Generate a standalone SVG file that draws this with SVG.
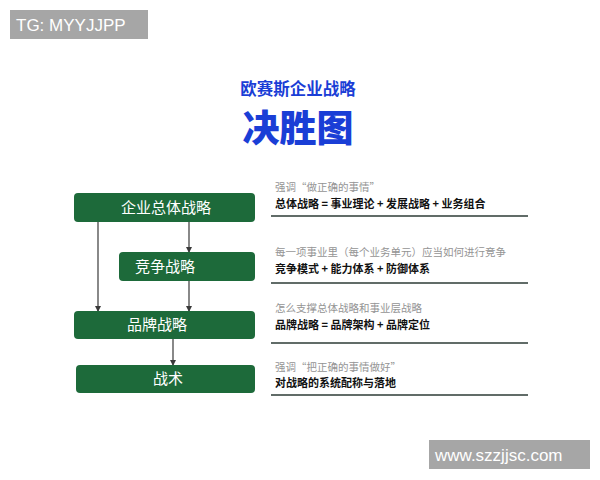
<svg xmlns="http://www.w3.org/2000/svg" width="600" height="480" viewBox="0 0 600 480">
<defs>
<style>
.box{fill:#1d6a3a;}
.bt{font-family:"Noto Sans CJK SC","Noto Sans",sans-serif;font-size:15px;fill:#ffffff;text-anchor:middle;}
.g{font-family:"Noto Sans CJK SC",sans-serif;font-size:10.5px;fill:#949494;}
.b{font-family:"Noto Sans CJK SC",sans-serif;font-size:11px;font-weight:bold;fill:#111111;}
.rule{stroke:#2c3b36;stroke-width:1.6;}
.wm{fill:#a6a6a6;}
.wt{font-family:"Liberation Sans",Arial,sans-serif;font-size:17px;fill:#ffffff;}
.conn line{stroke:#3a3a3a;stroke-width:1.2;marker-end:url(#ah);}
</style>
<marker id="ah" viewBox="0 0 6 6" refX="5" refY="3" markerWidth="6" markerHeight="6" markerUnits="userSpaceOnUse" orient="auto">
<path d="M0,0 L6,3 L0,6 z" fill="#3a3a3a"/>
</marker>
</defs>
<rect width="600" height="480" fill="#ffffff"/>
<g id="wm1"><rect class="wm" x="10" y="10" width="138" height="29"/><text class="wt" x="16" y="31">TG: MYYJJPP</text></g>
<g id="wm2"><rect class="wm" x="429" y="440" width="161" height="29"/><text class="wt" x="435" y="461">www.szzjjsc.com</text></g>
<g id="title">
<text x="298" y="95" text-anchor="middle" font-family="Noto Sans CJK SC,sans-serif" font-size="16.5" font-weight="bold" fill="#1a3ed6">欧赛斯企业战略</text>
<text x="298" y="142" text-anchor="middle" font-family="Noto Sans CJK SC,sans-serif" font-size="37" font-weight="900" fill="#1a3ed6">决胜图</text>
</g>
<g class="conn">
<line x1="98" y1="222" x2="98" y2="311"/>
<line x1="189" y1="222" x2="189" y2="252"/>
<line x1="189" y1="281" x2="189" y2="311"/>
<line x1="173" y1="339" x2="173" y2="365"/>
</g>
<g id="n1"><rect class="box" x="74" y="193" width="181" height="29" rx="4"/><text class="bt" x="166" y="213">企业总体战略</text></g>
<g id="n2"><rect class="box" x="119" y="252" width="136" height="29" rx="4"/><text class="bt" x="165" y="272">竞争战略</text></g>
<g id="n3"><rect class="box" x="74" y="311" width="181" height="28" rx="4"/><text class="bt" x="157" y="330">品牌战略</text></g>
<g id="n4"><rect class="box" x="76" y="365" width="179" height="28" rx="4"/><text class="bt" x="168" y="384">战术</text></g>
<g id="d1">
<text class="g" x="275" y="191">强调“做正确的事情”</text>
<text class="b" x="275" y="208">总体战略 = 事业理论 + 发展战略 + 业务组合</text>
<line class="rule" x1="271" y1="216" x2="528" y2="216"/>
</g>
<g id="d2">
<text class="g" x="275" y="256">每一项事业里（每个业务单元）应当如何进行竞争</text>
<text class="b" x="275" y="273">竞争模式 + 能力体系 + 防御体系</text>
<line class="rule" x1="271" y1="283" x2="528" y2="283"/>
</g>
<g id="d3">
<text class="g" x="275" y="312">怎么支撑总体战略和事业层战略</text>
<text class="b" x="275" y="329">品牌战略 = 品牌架构 + 品牌定位</text>
<line class="rule" x1="271" y1="343" x2="528" y2="343"/>
</g>
<g id="d4">
<text class="g" x="275" y="371">强调“把正确的事情做好”</text>
<text class="b" x="275" y="387">对战略的系统配称与落地</text>
<line class="rule" x1="271" y1="395" x2="528" y2="395"/>
</g>
</svg>
